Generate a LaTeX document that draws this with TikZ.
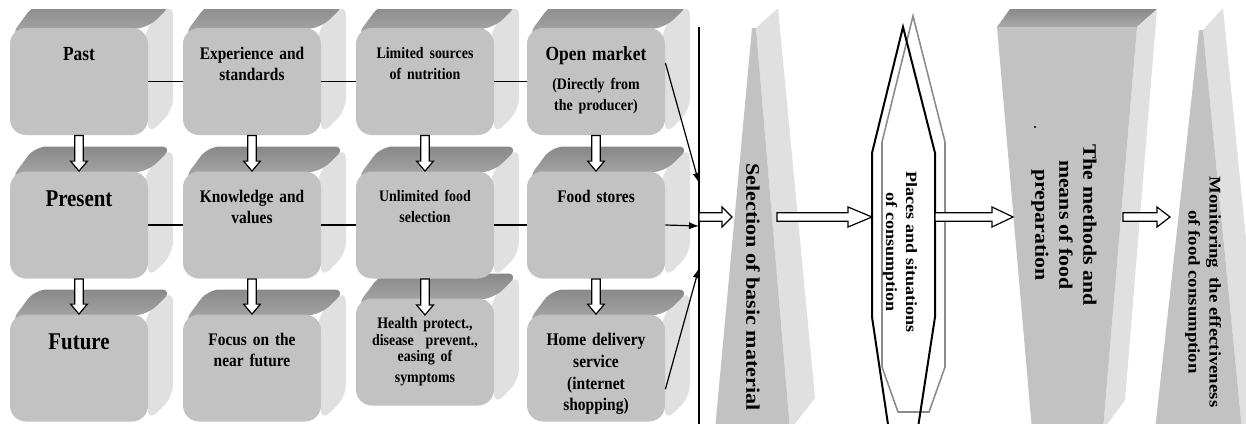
\documentclass[tikz,border=0pt]{standalone}
\usepackage{fontspec}
\setmainfont{Liberation Serif}
\newfontfamily\cubefont[FakeStretch=0.87]{Liberation Serif}
\newfontfamily\wedgefont[FakeStretch=1.15]{Liberation Serif}
\usetikzlibrary{arrows.meta,calc,positioning}

\definecolor{facegray}{RGB}{194,194,194}
\definecolor{topdark}{RGB}{136,136,136}
\definecolor{toplight}{RGB}{170,170,170}
\definecolor{sidegray}{RGB}{224,224,224}
\definecolor{ringgray}{RGB}{140,140,140}

% bevelled box: name, centre x, centre y, label
\newcommand{\cube}[4]{%
  \fill[sidegray,rounded corners=6pt] (#2+66,#3-53.5) -- (#2+94,#3-78.5) -- (#2+94,#3+28.5) -- (#2+69,#3+53.5) -- cycle;
  \shade[top color=topdark,bottom color=toplight,rounded corners=6pt]
    (#2-69,#3-45) -- (#2-44,#3-78.5) -- (#2+94,#3-78.5) -- (#2+69,#3-53.5) -- cycle;
  \node[face] (#1) at (#2,#3) {};
  \node[facetext,below=9.5pt of #1.north] (#1-t) {#4};
}

% hollow block arrow: from, to, head length, head half width
\newcommand{\hollow}[4]{%
  \coordinate (hb) at ($(#2)!#3!(#1)$);
  \filldraw[hollowarrow] ($(#1)!2.1pt!90:(#2)$) -- ($(hb)!2.1pt!90:(#2)$) -- ($(hb)!#4!90:(#2)$)
    -- (#2) -- ($(hb)!#4!-90:(#2)$) -- ($(hb)!2.1pt!-90:(#2)$) -- ($(#1)!2.1pt!-90:(#2)$) -- cycle;
}

\begin{document}
\begin{tikzpicture}[x=0.5pt,y=-0.5pt,>=Latex,
  face/.style={rectangle,rounded corners=8pt,fill=facegray,minimum width=69pt,minimum height=53.5pt,inner sep=0pt},
  facetext/.style={font=\cubefont\bfseries\fontsize{8.85}{10.5}\selectfont,text width=68pt,align=center,inner sep=0pt},
  link/.style={line width=0.6pt},
  feed/.style={-{Latex[length=5pt,width=3.6pt]},line width=0.6pt},
  hollowarrow/.style={draw=black,fill=white,line width=0.6pt},
  turned/.style={font=\wedgefont\bfseries,align=center,rotate=-90,inner sep=0pt}]
  \useasboundingbox (0,0) rectangle (1246,423);
  \clip (0,9) rectangle (1246,423);

  \cube{past}{79}{81.5}{\fontsize{10}{12}\selectfont Past}
  \cube{exper}{252}{81.5}{Experience and\\standards}
  \cube{limited}{425}{81.5}{\fontsize{8}{9}\selectfont Limited sources\\of nutrition}
  \cube{market}{596}{81.5}{\fontsize{10}{12}\selectfont Open market\\[5.5pt]\fontsize{8}{9}\selectfont (Directly from\\the producer)}
  \cube{health}{425}{352}{\fontsize{8}{8.2}\selectfont Health protect.,\\disease\ \ prevent.,\\easing of\\symptoms}
  \cube{present}{79}{225}{\fontsize{12}{14}\selectfont Present}
  \cube{knowl}{252}{225}{Knowledge and\\values}
  \cube{unlim}{425}{225}{\fontsize{8}{9}\selectfont Unlimited food\\selection}
  \cube{stores}{596}{225}{Food stores}
  \cube{future}{79}{368}{\fontsize{12}{14}\selectfont Future}
  \cube{focus}{252}{368}{Focus on the\\near future}
  \cube{home}{596}{368}{\fontsize{8.9}{10.8}\selectfont Home delivery\\service\\(internet\\shopping)}

  \foreach \a/\b in {past/exper,exper/limited,limited/market,present/knowl,knowl/unlim,unlim/stores}
    \draw[link] (\a.east) -- (\b.west);

  \coordinate (health-in) at (425,315);
  \foreach \a/\b in {past/present,exper/knowl,limited/unlim,market/stores,present/future,knowl/focus,unlim/health-in,stores/home}
    \hollow{\a.south}{\b.north}{5pt}{4.2pt};

  % collecting bar
  \coordinate (bar-top) at (699,27);
  \coordinate (bar-bot) at (699,430);
  \draw[line width=1pt] (bar-top) -- (bar-bot);
  \coordinate (bar-a) at (699,183);
  \coordinate (bar-b) at (699,226);
  \coordinate (bar-c) at (699,268);
  \draw[feed] (market.15) -- (bar-a);
  \draw[feed] (stores.east) -- (bar-b);
  \draw[feed] (home.-17) -- (bar-c);

  % selection wedge
  \fill[sidegray] (756,28) -- (778,8) -- (815,398) -- (790,430) -- cycle;
  \fill[facegray] (752,28) -- (756,28) -- (790,430) -- (715,430) -- cycle;
  \node[turned,font=\wedgefont\bfseries\fontsize{9.6}{11}\selectfont] (sel) at (753,287) {Selection of basic material};

  % places of consumption
  \draw[ringgray,line width=0.8pt] (913,16) -- (882,142) -- (882,367) -- (898,412) -- (929,412) -- (945,367) -- (945,142) -- cycle;
  \draw[line width=1pt] (903,27) -- (872,153) -- (872,317) -- (903,525) -- (935,317) -- (935,153) -- cycle;
  \node[turned,font=\wedgefont\bfseries\fontsize{7.85}{10}\selectfont] (plc) at (900,252) {Places and situations\\of consumption};

  % food preparation block
  \shade[top color=topdark,bottom color=toplight] (997,27) -- (1010,9) -- (1157,9) -- (1137,27) -- cycle;
  \fill[sidegray] (1137,27) -- (1157,9) -- (1125,400) -- (1103,430) -- cycle;
  \fill[facegray] (997,27) -- (1137,27) -- (1103,430) -- (1032,430) -- cycle;
  \fill (1035,127) circle (0.6pt);
  \node[turned,font=\wedgefont\bfseries\fontsize{9.5}{12}\selectfont] (prep) at (1064,225) {The methods and\\means of food\\preparation};

  % monitoring wedge
  \fill[sidegray] (1203,30) -- (1223,8) -- (1265,430) -- (1242,430) -- cycle;
  \fill[facegray] (1199,30) -- (1203,30) -- (1242,430) -- (1155,430) -- cycle;
  \node[turned,font=\wedgefont\bfseries\fontsize{8.15}{10.5}\selectfont] (mon) at (1203,292) {Monitoring\ \ the effectiveness\\of food consumption};

  \coordinate (bar-out) at (699,217);
  \coordinate (sel-in) at (732,217);
  \coordinate (sel-out) at (777,217);
  \coordinate (plc-in) at (872,217);
  \coordinate (plc-out) at (935,217);
  \coordinate (prep-in) at (1013,217);
  \coordinate (prep-out) at (1123,217);
  \coordinate (mon-in) at (1170,217);
  \hollow{bar-out}{sel-in}{5pt}{5pt}
  \hollow{sel-out}{plc-in}{12pt}{5pt}
  \hollow{plc-out}{prep-in}{10.5pt}{5pt}
  \hollow{prep-out}{mon-in}{6.5pt}{5pt}
\end{tikzpicture}
\end{document}
